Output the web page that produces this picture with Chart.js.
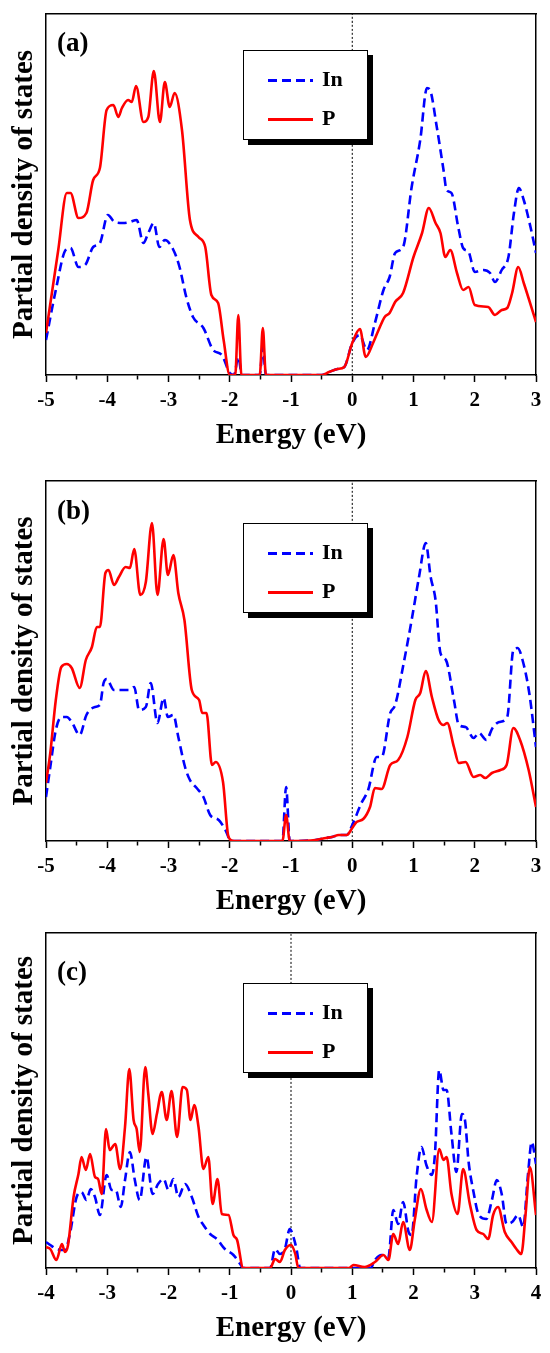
<!DOCTYPE html>
<html>
<head>
<meta charset="utf-8">
<script src="https://cdn.jsdelivr.net/npm/chart.js@4.4.1/dist/chart.umd.min.js"></script>
<style>
  body { margin: 0; background: #fff; }
  #page { position: relative; width: 550px; height: 1353px; overflow: hidden; }
  canvas { position: absolute; left: 0; }
  .tag, .legend, .legend div { position: absolute; font-family: 'Liberation Serif', 'Times New Roman', serif; font-weight: bold; color: #000; }
  .tag { font-size: 27px; line-height: 27px; left: 57px; }
  .legend { left: 243px; width: 123px; height: 88px; border: 1.5px solid #000; background: #fff; box-shadow: 5px 5px 0 #000; }
  .legend .ln { left: 24px; width: 45px; height: 3px; }
  .legend .txt { left: 78px; font-size: 22px; line-height: 22px; }
  .dash { background: repeating-linear-gradient(90deg, #0000ff 0 9px, transparent 9px 14px); }
  .solid { background: #ff0000; }
</style>
</head>
<body>
<div id="page">
  <canvas id="chartA" width="550" height="455" style="top:0px"></canvas>
  <canvas id="chartB" width="550" height="466" style="top:455px"></canvas>
  <canvas id="chartC" width="550" height="432" style="top:921px"></canvas>
</div>
<script>
// panel (a)
const energyPA = [-5, -4.8, -4.66, -4.6, -4.47, -4.34, -4.23, -4.12, -4.01, -3.9, -3.82, -3.76, -3.66, -3.6, -3.53, -3.41, -3.33, -3.24, -3.14, -3.06, -2.98, -2.9, -2.78, -2.65, -2.51, -2.4, -2.3, -2.19, -2.1, -2.0, -1.91, -1.86, -1.81, -1.51, -1.46, -1.41, -0.5, -0.38, -0.24, -0.13, 0, 0.125, 0.22, 0.34, 0.43, 0.53, 0.61, 0.7, 0.83, 1.0, 1.14, 1.25, 1.36, 1.44, 1.52, 1.6, 1.71, 1.81, 1.9, 2.0, 2.22, 2.33, 2.44, 2.53, 2.61, 2.71, 2.8, 3.0];
const dosPA = [42, 125, 182, 182, 157, 162, 195, 207, 265, 270, 258, 267, 275, 273, 289, 253, 258, 304, 253, 293, 268, 282, 245, 155, 138, 128, 80, 72, 35, 0, 0, 60, 0, 0, 47, 0, 0, 3, 6, 8, 32, 46, 18, 32, 45, 58, 62, 73, 82, 118, 142, 167, 152, 142, 118, 125, 102, 85, 88, 70, 68, 60, 65, 67, 82, 108, 92, 53];
const energyInA = [-5, -4.84, -4.68, -4.6, -4.47, -4.36, -4.23, -4.12, -3.99, -3.88, -3.74, -3.63, -3.52, -3.41, -3.33, -3.24, -3.15, -3.06, -2.92, -2.82, -2.71, -2.6, -2.43, -2.27, -2.13, -2.0, -1.93, -1.86, -1.8, -1.51, -1.46, -1.41, -0.5, -0.38, -0.24, -0.13, 0, 0.12, 0.24, 0.37, 0.51, 0.61, 0.7, 0.83, 0.97, 1.11, 1.22, 1.27, 1.38, 1.49, 1.54, 1.62, 1.73, 1.81, 1.9, 2.0, 2.14, 2.25, 2.33, 2.44, 2.55, 2.64, 2.72, 2.8, 2.91, 3.0];
const dosInA = [35, 85, 125, 127, 108, 110, 128, 132, 160, 153, 152, 153, 155, 132, 142, 152, 128, 135, 125, 108, 78, 58, 47, 25, 20, 2, 0, 18, 0, 0, 28, 0, 0, 3, 6, 8, 32, 40, 25, 52, 85, 98, 122, 128, 188, 235, 287, 285, 248, 205, 185, 182, 148, 127, 123, 103, 105, 102, 93, 105, 118, 162, 187, 175, 148, 122];

// panel (b)
const energyPB = [-5, -4.93, -4.84, -4.75, -4.66, -4.58, -4.45, -4.35, -4.25, -4.17, -4.12, -4.03, -3.98, -3.89, -3.81, -3.7, -3.63, -3.56, -3.46, -3.37, -3.27, -3.18, -3.08, -3.01, -2.92, -2.84, -2.74, -2.62, -2.5, -2.45, -2.38, -2.29, -2.23, -2.11, -2.02, -1.93, -1.14, -1.08, -1.02, -0.6, -0.43, -0.33, -0.22, -0.09, 0, 0.07, 0.18, 0.29, 0.37, 0.48, 0.62, 0.75, 0.9, 1.03, 1.11, 1.2, 1.3, 1.41, 1.49, 1.55, 1.66, 1.74, 1.85, 1.98, 2.09, 2.17, 2.28, 2.42, 2.52, 2.63, 2.74, 2.88, 3.0];
const dosPB = [58, 88, 141, 174, 177, 173, 153, 181, 194, 214, 214, 268, 271, 256, 264, 274, 273, 292, 246, 259, 318, 246, 302, 266, 286, 248, 221, 151, 141, 128, 128, 76, 79, 59, 4, 0, 0, 26, 0, 1, 3, 4, 6, 6, 13, 19, 22, 34, 53, 52, 76, 81, 104, 141, 148, 170, 144, 121, 116, 118, 94, 78, 79, 64, 66, 63, 68, 71, 76, 113, 101, 71, 34];
const energyInB = [-5, -4.93, -4.84, -4.75, -4.66, -4.58, -4.45, -4.34, -4.2, -4.12, -4.06, -4.01, -3.89, -3.78, -3.65, -3.56, -3.48, -3.37, -3.29, -3.18, -3.08, -3.01, -2.92, -2.84, -2.73, -2.65, -2.54, -2.43, -2.32, -2.18, -2.07, -1.98, -1.14, -1.08, -1.02, -0.6, -0.43, -0.33, -0.22, -0.09, 0, 0.15, 0.26, 0.4, 0.48, 0.62, 0.7, 0.84, 0.97, 1.09, 1.2, 1.28, 1.36, 1.44, 1.53, 1.66, 1.74, 1.85, 1.98, 2.07, 2.19, 2.29, 2.4, 2.53, 2.63, 2.7, 2.78, 2.89, 3.0];
const dosInB = [44, 74, 111, 124, 124, 119, 106, 126, 134, 136, 158, 162, 151, 151, 151, 154, 131, 134, 158, 118, 143, 124, 126, 104, 74, 61, 53, 44, 26, 21, 11, 0, 0, 54, 0, 1, 3, 4, 6, 6, 16, 38, 51, 84, 84, 128, 136, 178, 221, 264, 298, 264, 241, 188, 181, 141, 116, 114, 103, 108, 101, 113, 119, 124, 191, 193, 181, 148, 94];

// panel (c)
const energyPC = [-4, -3.93, -3.83, -3.74, -3.69, -3.64, -3.55, -3.47, -3.42, -3.35, -3.28, -3.2, -3.15, -3.09, -3.02, -2.96, -2.87, -2.79, -2.71, -2.64, -2.57, -2.52, -2.47, -2.38, -2.33, -2.26, -2.19, -2.11, -2.03, -1.95, -1.86, -1.77, -1.7, -1.64, -1.58, -1.51, -1.43, -1.35, -1.28, -1.2, -1.13, -1.02, -0.94, -0.88, -0.78, -0.34, -0.26, -0.18, -0.1, 0, 0.07, 0.12, 0.95, 1.02, 1.2, 1.37, 1.51, 1.59, 1.67, 1.75, 1.83, 1.94, 2.02, 2.12, 2.21, 2.3, 2.42, 2.49, 2.54, 2.62, 2.72, 2.81, 2.92, 3.03, 3.14, 3.22, 3.3, 3.38, 3.49, 3.6, 3.68, 3.76, 3.83, 3.9, 4.0];
const dosPC = [21, 19, 8, 24, 16, 23, 71, 94, 111, 98, 114, 91, 89, 74, 139, 118, 124, 99, 141, 199, 148, 139, 116, 201, 174, 134, 154, 176, 148, 177, 131, 181, 178, 148, 163, 141, 99, 111, 64, 89, 54, 53, 33, 28, 0, 0, 9, 6, 18, 23, 14, 0, 0, 3, 1, 6, 13, 8, 34, 24, 46, 18, 48, 79, 59, 46, 119, 108, 111, 74, 54, 99, 64, 38, 34, 29, 53, 61, 36, 26, 19, 14, 54, 101, 53];
const energyInC = [-4, -3.93, -3.83, -3.69, -3.61, -3.5, -3.42, -3.34, -3.27, -3.2, -3.12, -3.01, -2.93, -2.86, -2.78, -2.71, -2.63, -2.55, -2.47, -2.36, -2.26, -2.17, -2.08, -2.0, -1.92, -1.84, -1.73, -1.62, -1.51, -1.43, -1.32, -1.21, -1.08, -0.94, -0.83, -0.78, -0.34, -0.26, -0.18, -0.1, -0.02, 0.04, 0.09, 0.15, 1.3, 1.37, 1.48, 1.59, 1.67, 1.75, 1.83, 1.92, 1.97, 2.05, 2.13, 2.21, 2.3, 2.35, 2.42, 2.49, 2.54, 2.62, 2.7, 2.79, 2.84, 2.9, 2.98, 3.06, 3.19, 3.28, 3.36, 3.44, 3.52, 3.61, 3.71, 3.79, 3.87, 3.93, 4.0];
const dosInC = [26, 23, 19, 18, 34, 71, 76, 68, 79, 71, 53, 93, 78, 78, 61, 88, 116, 88, 68, 111, 74, 84, 89, 78, 89, 71, 84, 71, 51, 43, 34, 29, 19, 13, 4, 0, 0, 19, 14, 19, 39, 31, 19, 0, 0, 8, 13, 11, 58, 44, 66, 36, 33, 91, 121, 103, 93, 114, 198, 178, 178, 134, 96, 154, 148, 106, 76, 54, 49, 68, 88, 74, 44, 46, 53, 41, 94, 126, 104];

const seriesNames = ['In', 'P'];
const panelTags = ['(a)', '(b)', '(c)'];
const energyRanges = [[-5, 3], [-5, 3], [-4, 4]];
const dosMax = [361, 360, 335];
const fermiLevel = 0;

const serif = "'Liberation Serif', 'Times New Roman', serif";

function pairs(xs, ys) {
    return xs.map((x, i) => ({ x: x, y: ys[i] }));
}

function makePanel(id, idx, eIn, dIn, eP, dP, pad) {
    const [xmin, xmax] = energyRanges[idx];
    const ymax = dosMax[idx];
    const frame = { display: true, color: '#000', width: 1.5 };
    const config = {
        type: 'line',
        data: {
            datasets: [{
                label: seriesNames[1],
                data: pairs(eP, dP),
                borderColor: '#ff0000',
                borderWidth: 2.6,
                order: 1
            }, {
                label: seriesNames[0],
                data: pairs(eIn, dIn),
                borderColor: '#0000ff',
                borderWidth: 2.6,
                borderDash: [9, 5],
                order: 2
            }, {
                label: 'Ef',
                data: [{ x: fermiLevel, y: 0 }, { x: fermiLevel, y: ymax }],
                borderColor: '#000',
                borderWidth: 1,
                borderDash: [2, 2],
                order: 3
            }]
        },
        options: {
            responsive: false,
            animation: false,
            layout: { padding: { top: pad[0], right: 14, bottom: pad[1], left: 0 } },
            elements: {
                point: { radius: 0 },
                line: { cubicInterpolationMode: 'monotone', fill: false }
            },
            plugins: { legend: { display: false }, tooltip: { enabled: false } },
            scales: {
                x: {
                    type: 'linear',
                    position: 'bottom',
                    min: xmin,
                    max: xmax,
                    ticks: {
                        stepSize: 0.5,
                        autoSkip: false,
                        maxRotation: 0,
                        padding: 6,
                        color: '#000',
                        font: { family: serif, size: 21, weight: 'bold' },
                        callback: v => Number.isInteger(v) ? String(v) : ''
                    },
                    grid: {
                        drawOnChartArea: false,
                        drawTicks: true,
                        tickLength: 7,
                        tickWidth: 1.5,
                        tickColor: '#000',
                        tickBorderDash: ctx => (ctx.tick && Number.isInteger(ctx.tick.value)) ? [] : [4, 20]
                    },
                    border: frame,
                    title: {
                        display: true,
                        text: 'Energy (eV)',
                        color: '#000',
                        font: { family: serif, size: 29, weight: 'bold' },
                        padding: { top: 0, bottom: 0 }
                    },
                    afterFit: s => { s.height = 78; }
                },
                y: {
                    type: 'linear',
                    position: 'left',
                    min: 0,
                    max: ymax,
                    ticks: { display: false },
                    grid: { display: false, drawTicks: false },
                    border: frame,
                    title: {
                        display: true,
                        text: 'Partial density of states',
                        color: '#000',
                        font: { family: serif, size: 29, weight: 'bold' },
                        padding: { top: 7, bottom: 0 }
                    },
                    afterFit: s => { s.width = 46; }
                },
                x2: {
                    type: 'linear',
                    position: 'top',
                    min: xmin,
                    max: xmax,
                    ticks: { display: false },
                    grid: { display: false, drawTicks: false },
                    border: frame,
                    afterFit: s => { s.height = 0; }
                },
                y2: {
                    type: 'linear',
                    position: 'right',
                    min: 0,
                    max: ymax,
                    ticks: { display: false },
                    grid: { display: false, drawTicks: false },
                    border: frame,
                    afterFit: s => { s.width = 0; }
                }
            }
        }
    };
    return new Chart(document.getElementById(id), config);
}

// legend boxes and panel tags as real text
const page = document.getElementById('page');
const legendTops = [50, 523, 983];
const tagCenters = [43, 511, 972];
legendTops.forEach((top, i) => {
    const box = document.createElement('div');
    box.className = 'legend';
    box.style.top = top + 'px';
    box.innerHTML =
        '<div class="ln dash" style="top:' + (29 - 1.5) + 'px"></div>' +
        '<div class="txt" style="top:' + (29 - 12) + 'px">' + seriesNames[0] + '</div>' +
        '<div class="ln solid" style="top:' + (68 - 1.5) + 'px"></div>' +
        '<div class="txt" style="top:' + (68 - 12) + 'px">' + seriesNames[1] + '</div>';
    page.appendChild(box);
    const tag = document.createElement('div');
    tag.className = 'tag';
    tag.style.top = (tagCenters[i] - 14) + 'px';
    tag.textContent = panelTags[i];
    page.appendChild(tag);
});

makePanel('chartA', 0, energyInA, dosInA, energyPA, dosPA, [14, 2]);
makePanel('chartB', 1, energyInB, dosInB, energyPB, dosPB, [26, 2]);
makePanel('chartC', 2, energyInC, dosInC, energyPC, dosPC, [12, 7]);
</script>
</body>
</html>
